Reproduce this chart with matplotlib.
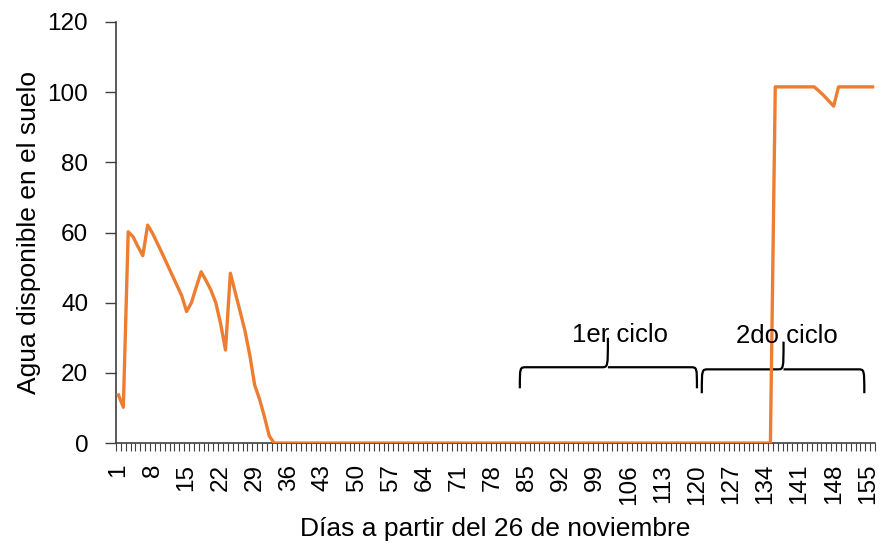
import matplotlib
matplotlib.use("Agg")
import matplotlib.pyplot as plt
from matplotlib.path import Path
from matplotlib.patches import PathPatch

plt.rcParams['font.family'] = ['Liberation Sans', 'DejaVu Sans']

# soil available water per day since 26 Nov
days = list(range(1, 157))
agua = [
    13.7, 10.2, 60.2, 58.8, 56.0, 53.4, 62.1, 59.8, 56.9, 54.0,
    51.0, 48.0, 45.0, 42.0, 37.5, 40.0, 44.5, 48.8, 46.3, 43.6,
    40.0, 34.0, 26.5, 48.4, 43.0, 37.5, 32.0, 25.0, 16.5, 12.5,
    7.5, 2.0, 0.0, 0.0, 0.0, 0.0, 0.0, 0.0, 0.0, 0.0,
    0.0, 0.0, 0.0, 0.0, 0.0, 0.0, 0.0, 0.0, 0.0, 0.0,
    0.0, 0.0, 0.0, 0.0, 0.0, 0.0, 0.0, 0.0, 0.0, 0.0,
    0.0, 0.0, 0.0, 0.0, 0.0, 0.0, 0.0, 0.0, 0.0, 0.0,
    0.0, 0.0, 0.0, 0.0, 0.0, 0.0, 0.0, 0.0, 0.0, 0.0,
    0.0, 0.0, 0.0, 0.0, 0.0, 0.0, 0.0, 0.0, 0.0, 0.0,
    0.0, 0.0, 0.0, 0.0, 0.0, 0.0, 0.0, 0.0, 0.0, 0.0,
    0.0, 0.0, 0.0, 0.0, 0.0, 0.0, 0.0, 0.0, 0.0, 0.0,
    0.0, 0.0, 0.0, 0.0, 0.0, 0.0, 0.0, 0.0, 0.0, 0.0,
    0.0, 0.0, 0.0, 0.0, 0.0, 0.0, 0.0, 0.0, 0.0, 0.0,
    0.0, 0.0, 0.0, 0.0, 0.0, 101.5, 101.5, 101.5, 101.5, 101.5,
    101.5, 101.5, 101.5, 101.5, 100.3, 99.0, 97.5, 96.0, 101.5, 101.5,
    101.5, 101.5, 101.5, 101.5, 101.5, 101.5,
]
tick_days = list(range(1, 157, 7))

# cycles: (start, end, tip, label)
ciclos = [(83.5, 119.9, 101.6, '1er ciclo'), (120.9, 154.3, 137.7, '2do ciclo')]


def brace(ax, x0, x1, xt, ylow, ymid, ytop):
    r = 1.3
    verts = [(x0, ylow),
             (x0, ymid), (x0, ymid), (x0 + r, ymid),
             (xt - r, ymid),
             (xt, ymid), (xt, ymid), (xt, ytop),
             (xt, ymid), (xt, ymid), (xt + r, ymid),
             (x1 - r, ymid),
             (x1, ymid), (x1, ymid), (x1, ylow)]
    codes = [Path.MOVETO,
             Path.CURVE4, Path.CURVE4, Path.CURVE4,
             Path.LINETO,
             Path.CURVE4, Path.CURVE4, Path.CURVE4,
             Path.MOVETO, Path.CURVE4, Path.CURVE4,
             Path.LINETO,
             Path.CURVE4, Path.CURVE4, Path.CURVE4]
    ax.add_patch(PathPatch(Path(verts, codes), fill=False, lw=1.6,
                           color='black', clip_on=False))


fig = plt.figure(figsize=(8.81, 5.49), dpi=100)
ax = fig.add_axes([0.1317, 0.193, 0.8615, 0.767])

ax.plot(days, agua, color='#ED7D31', lw=2.4, zorder=3)

brace(ax, ciclos[0][0], ciclos[0][1], ciclos[0][2], 15.6, 21.6, 30.0)
brace(ax, ciclos[1][0], ciclos[1][1], ciclos[1][2], 14.2, 21.0, 28.9)
ax.text(104.1, 28.8, ciclos[0][3], fontsize=18.5, ha='center', va='baseline')
ax.text(138.4, 28.4, ciclos[1][3], fontsize=18.5, ha='center', va='baseline')

ax.set_xlim(0.5, 156.5)
ax.set_ylim(0, 120)
ax.set_yticks(range(0, 121, 20))
ax.set_xticks(tick_days)
ax.set_xticklabels([str(d) for d in tick_days], rotation=90)
ax.set_xticks([d + 0.5 for d in range(0, 157)], minor=True)
ax.tick_params(axis='x', which='major', length=0, pad=15, labelsize=17.5)
ax.tick_params(axis='x', which='minor', length=6, width=0.8, color='#404040')
ax.tick_params(axis='y', length=8, width=1, color='#404040', pad=12, labelsize=17.5)

for s in ['top', 'right']:
    ax.spines[s].set_visible(False)
for s in ['left', 'bottom']:
    ax.spines[s].set_color('#404040')
    ax.spines[s].set_linewidth(1.2)

ax.set_xlabel('Días a partir del 26 de noviembre', fontsize=19, labelpad=9)
ax.set_ylabel('Agua disponible en el suelo', fontsize=19, labelpad=5)

fig.savefig('out.png', dpi=100)
